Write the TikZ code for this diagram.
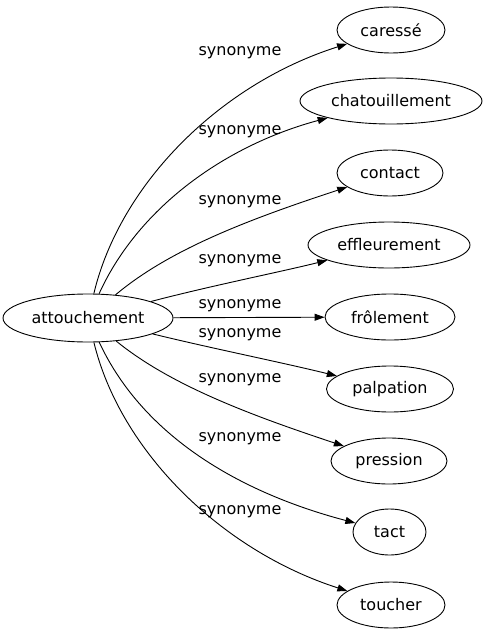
\documentclass[tikz,border=0pt]{standalone}
\usepackage{fontspec}
\setmainfont{DejaVu Sans}
\usetikzlibrary{shapes.geometric,arrows.meta}
\begin{document}
\begin{tikzpicture}[x=1pt,y=-1pt,
  every node/.style={font=\fontsize{16}{18}\selectfont},
  term/.style={draw,ellipse,inner sep=0pt,minimum height=46pt,line width=0.9pt},
  lbl/.style={inner sep=0pt,anchor=center},
  edge/.style={draw,line width=0.9pt,-{Triangle[length=10pt,width=7pt]}}]
\useasboundingbox (0,0) rectangle (486,635);
\node[term,minimum width=170pt,minimum height=48pt] (src) at (88,318) {attouchement};
\node[term,minimum width=108pt] (t1) at (391,30) {caressé};
\node[term,minimum width=182pt] (t2) at (391,101) {chatouillement};
\node[term,minimum width=106pt] (t3) at (390,173) {contact};
\node[term,minimum width=162pt] (t4) at (389,245) {effleurement};
\node[term,minimum width=130pt] (t5) at (390,317) {frôlement};
\node[term,minimum width=127pt] (t6) at (390,389) {palpation};
\node[term,minimum width=116pt] (t7) at (389,461) {pression};
\node[term,minimum width=73pt] (t8) at (389.5,532) {tact};
\node[term,minimum width=108pt] (t9) at (391,605) {toucher};
\node[lbl] (l1) at (240,53) {synonyme};
\node[lbl] (l2) at (240,132) {synonyme};
\node[lbl] (l3) at (240,202) {synonyme};
\node[lbl] (l4) at (240,261) {synonyme};
\node[lbl] (l5) at (240,306) {synonyme};
\node[lbl] (l6) at (240,335) {synonyme};
\node[lbl] (l7) at (240,380) {synonyme};
\node[lbl] (l8) at (240,439) {synonyme};
\node[lbl] (l9) at (240,512) {synonyme};
\path[edge] (src) .. controls (120,184) and (220,84) .. (t1);
\path[edge] (src) .. controls (140,204) and (230,144) .. (t2);
\path[edge] (src) .. controls (170,249) and (250,219) .. (t3);
\path[edge] (src) .. controls (210,286) and (280,272) .. (t4);
\path[edge] (src) -- (t5);
\path[edge] (src) .. controls (210,348) and (280,362) .. (t6);
\path[edge] (src) .. controls (170,385) and (250,415) .. (t7);
\path[edge] (src) .. controls (140,430) and (230,490) .. (t8);
\path[edge] (src) .. controls (120,450) and (220,550) .. (t9);
\end{tikzpicture}
\end{document}
